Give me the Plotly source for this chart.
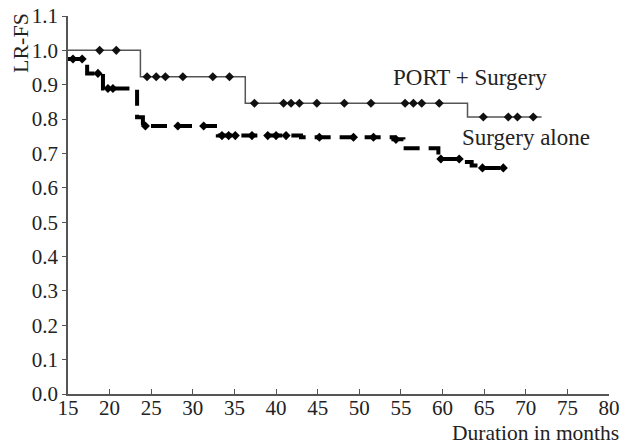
import plotly.graph_objects as go

# PORT + Surgery: step times and survival levels
port_times = [15.0, 23.7, 36.3, 63.0]
port_surv = [1.000, 0.923, 0.846, 0.806]
port_end = 71.9
port_censor = [18.8, 20.8, 24.5, 25.6, 26.7, 28.8, 32.4, 34.4, 37.4, 40.9, 41.8, 42.8,
               44.9, 48.2, 51.4, 55.5, 56.5, 57.5, 59.6, 64.9, 67.9, 69.0, 70.9]

# Surgery alone
surg_times = [15.0, 17.3, 19.2, 23.3, 24.0, 33.0, 43.0, 54.1, 55.3, 59.5, 62.5, 63.5, 64.5]
surg_surv = [0.975, 0.933, 0.889, 0.805, 0.780, 0.752, 0.747, 0.741, 0.715, 0.684, 0.675, 0.665, 0.658]
surg_end = 68.0
surg_censor = [15.6, 16.7, 18.6, 19.8, 20.4, 24.3, 28.2, 31.3, 33.5, 34.3, 35.1, 37.1, 39.0,
               40.0, 41.2, 45.2, 49.3, 51.7, 54.4, 59.8, 62.0, 64.8, 67.3]

x_ticks = list(range(15, 81, 5))
y_ticks = [i / 10 for i in range(0, 12)]


def level_at(times, surv, t):
    s = surv[0]
    for ti, si in zip(times, surv):
        if t >= ti:
            s = si
    return s


FONT = "Liberation Serif"
TXT = "#222222"
AX = "#555555"

# the page body adds an 8px offset; figure coords = page coords - 8
L, R, T, B = 60, 33, 8, 59
plot_w = 634 - L - R
plot_h = 445 - T - B


def px_to_paper(px, py):
    # px, py in page pixels
    fx, fy = px - 8, py - 8
    return (fx - L) / plot_w, (445 - B - fy) / plot_h


fig = go.Figure()

fig.add_trace(go.Scatter(
    x=port_times + [port_end], y=port_surv + [port_surv[-1]],
    mode="lines", line=dict(color=AX, width=1.5, shape="hv"),
    showlegend=False, hoverinfo="skip"))
fig.add_trace(go.Scatter(
    x=port_censor, y=[level_at(port_times, port_surv, t) for t in port_censor],
    mode="markers", marker=dict(symbol="diamond", size=7, color="#111111"),
    showlegend=False))

fig.add_trace(go.Scatter(
    x=surg_times + [surg_end], y=surg_surv + [surg_surv[-1]],
    mode="lines", line=dict(color="#000000", width=4, shape="hv", dash="16px,9px"),
    showlegend=False, hoverinfo="skip"))
fig.add_trace(go.Scatter(
    x=surg_censor, y=[level_at(surg_times, surg_surv, t) for t in surg_censor],
    mode="markers", marker=dict(symbol="diamond", size=7, color="#000000"),
    showlegend=False))

lx, ly = px_to_paper(21, 43)
dx, dy = px_to_paper(621, 433)

fig.update_layout(
    width=634, height=445,
    margin=dict(l=L, r=R, t=T, b=B, autoexpand=False),
    paper_bgcolor="white", plot_bgcolor="white",
    font=dict(family=FONT, size=21, color=TXT),
    xaxis=dict(range=[15, 80], tickvals=x_ticks, ticktext=[str(v) for v in x_ticks],
               showgrid=False, zeroline=False, showline=True, linecolor=AX,
               linewidth=1.5, ticks="inside", ticklen=5, tickcolor=AX,
               ticklabelstandoff=-6, ticklabeloverflow="allow", automargin=False,
               tickfont=dict(family=FONT, size=21, color=TXT)),
    yaxis=dict(range=[0, 1.1], tickvals=y_ticks, ticktext=[f"{v:.1f}" for v in y_ticks],
               showgrid=False, zeroline=False, showline=True, linecolor=AX,
               linewidth=1.5, ticks="outside", ticklen=4, tickcolor=AX,
               ticklabeloverflow="allow", automargin=False,
               tickfont=dict(family=FONT, size=21, color=TXT)),
    annotations=[
        dict(text="PORT + Surgery", x=63.3, y=0.922, xref="x", yref="y",
             xanchor="center", yanchor="middle",
             showarrow=False, font=dict(family=FONT, size=23, color=TXT)),
        dict(text="Surgery alone", x=70.0, y=0.747, xref="x", yref="y",
             xanchor="center", yanchor="middle",
             showarrow=False, font=dict(family=FONT, size=23, color=TXT)),
        dict(text="LR-FS", x=lx, y=ly, xref="paper", yref="paper",
             xanchor="center", yanchor="middle",
             showarrow=False, textangle=-90, font=dict(family=FONT, size=22, color=TXT)),
        dict(text="Duration in months", x=dx, y=dy, xref="paper", yref="paper",
             xanchor="right", yanchor="middle", showarrow=False,
             font=dict(family=FONT, size=21.5, color=TXT)),
    ],
)

fig.write_html("out.html")
